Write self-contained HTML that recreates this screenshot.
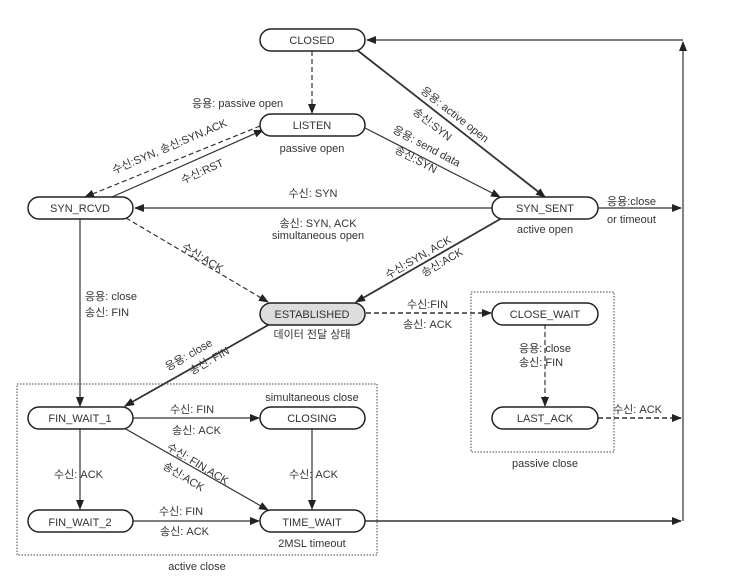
<!DOCTYPE html>
<html><head><meta charset="utf-8"><style>
html,body{margin:0;padding:0;background:#fff;}
svg text{font-family:"Liberation Sans","Noto Sans CJK KR",sans-serif;font-size:11px;fill:#333;}
</style></head><body>
<svg width="744" height="573" viewBox="0 0 744 573" xmlns="http://www.w3.org/2000/svg">
<defs>
<marker id="a" markerWidth="10" markerHeight="8" refX="9" refY="4" orient="auto" markerUnits="userSpaceOnUse">
<path d="M0,0 L10,4 L0,8 z" fill="#222"/></marker>
</defs>
<g fill="none" stroke="#444" stroke-width="1.3">
<rect x="17" y="384" width="360" height="171" stroke-dasharray="1.5,1.5" stroke-width="1"/>
<rect x="471" y="292" width="143" height="160" stroke-dasharray="1.5,1.5" stroke-width="1"/>
</g>
<g stroke="#333" stroke-width="1.2" fill="none">
<line x1="683" y1="521" x2="683" y2="42" marker-end="url(#a)"/>
<line x1="683" y1="40" x2="367" y2="40" marker-end="url(#a)"/>
<line x1="598" y1="208" x2="681" y2="208" marker-end="url(#a)"/>
<line x1="598" y1="418" x2="681" y2="418" stroke-dasharray="5,3" marker-end="url(#a)" stroke-width="1.5"/>
<line x1="365" y1="521" x2="681" y2="521" marker-end="url(#a)" stroke-width="1.5"/>
<line x1="312" y1="51" x2="312" y2="113" stroke-dasharray="5,3" marker-end="url(#a)"/>
<line x1="357" y1="50" x2="545" y2="197" stroke-width="1.8" marker-end="url(#a)"/>
<line x1="365" y1="128" x2="500" y2="197" marker-end="url(#a)"/>
<line x1="260" y1="126" x2="85" y2="197" stroke-dasharray="5,3" marker-end="url(#a)"/>
<line x1="112" y1="197" x2="263" y2="130" marker-end="url(#a)"/>
<line x1="492" y1="208" x2="135" y2="208" marker-end="url(#a)"/>
<line x1="126" y1="218" x2="268" y2="302" stroke-dasharray="5,3" marker-end="url(#a)"/>
<line x1="502" y1="218" x2="356" y2="302" stroke-width="1.8" marker-end="url(#a)"/>
<line x1="80" y1="218" x2="80" y2="406" marker-end="url(#a)"/>
<line x1="270" y1="324" x2="125" y2="406" stroke-width="1.8" marker-end="url(#a)"/>
<line x1="366" y1="313" x2="491" y2="313" stroke-dasharray="5,3" stroke-width="1.5" marker-end="url(#a)"/>
<line x1="545" y1="324" x2="545" y2="406" stroke-dasharray="5,3" marker-end="url(#a)"/>
<line x1="133" y1="418" x2="259" y2="418" marker-end="url(#a)"/>
<line x1="124" y1="428" x2="268" y2="510" marker-end="url(#a)"/>
<line x1="80" y1="428" x2="80" y2="509" marker-end="url(#a)"/>
<line x1="312" y1="428" x2="312" y2="509" marker-end="url(#a)"/>
<line x1="133" y1="521" x2="259" y2="521" marker-end="url(#a)"/>
</g>
<g stroke="#222" stroke-width="1.5" fill="#fff">
<rect x="260" y="29" width="105" height="22" rx="11"/>
<rect x="260" y="114" width="105" height="22" rx="11"/>
<rect x="28" y="197" width="105" height="22" rx="11"/>
<rect x="492" y="197" width="106" height="22" rx="11"/>
<rect x="260" y="303" width="105" height="22" rx="11" fill="#ddd"/>
<rect x="492" y="303" width="106" height="22" rx="11"/>
<rect x="492" y="407" width="106" height="22" rx="11"/>
<rect x="28" y="407" width="105" height="22" rx="11"/>
<rect x="260" y="407" width="105" height="22" rx="11"/>
<rect x="28" y="510" width="105" height="22" rx="11"/>
<rect x="260" y="510" width="105" height="22" rx="11"/>
</g>
<g text-anchor="middle">
<text x="312" y="44">CLOSED</text>
<text x="312" y="129">LISTEN</text>
<text x="80" y="212">SYN_RCVD</text>
<text x="545" y="212">SYN_SENT</text>
<text x="312" y="318">ESTABLISHED</text>
<text x="545" y="318">CLOSE_WAIT</text>
<text x="545" y="422">LAST_ACK</text>
<text x="80" y="422">FIN_WAIT_1</text>
<text x="312" y="422">CLOSING</text>
<text x="80" y="526">FIN_WAIT_2</text>
<text x="312" y="526">TIME_WAIT</text>
<text x="312" y="152">passive open</text>
<text x="313" y="197">수신: SYN</text>
<text x="318" y="227">송신: SYN, ACK</text>
<text x="318" y="239">simultaneous open</text>
<text x="545" y="233">active open</text>
<text x="312" y="338">데이터 전달 상태</text>
<text x="312" y="401">simultaneous close</text>
<text x="312" y="547">2MSL timeout</text>
<text x="197" y="570">active close</text>
<text x="545" y="467">passive close</text>
</g>
<g>
<text x="192" y="107">응용: passive open</text>
<text x="607" y="205">응용:close</text>
<text x="607" y="223">or timeout</text>
<text x="85" y="300">응용: close</text>
<text x="85" y="316">송신: FIN</text>
<text x="407" y="308">수신:FIN</text>
<text x="403" y="328">송신: ACK</text>
<text x="519" y="352">응용: close</text>
<text x="519" y="366">송신: FIN</text>
<text x="613" y="413">수신: ACK</text>
<text x="170" y="413">수신: FIN</text>
<text x="172" y="434">송신: ACK</text>
<text x="54" y="478">수신: ACK</text>
<text x="289" y="478">수신: ACK</text>
<text x="159" y="515">수신: FIN</text>
<text x="160" y="535">송신: ACK</text>
</g>
<g>
<text transform="translate(420,92) rotate(38)">응용: active open</text>
<text transform="translate(412,113) rotate(38)">송신:SYN</text>
<text transform="translate(392,132) rotate(28)">응용: send data</text>
<text transform="translate(394,152) rotate(28)">송신:SYN</text>
<text transform="translate(114,174) rotate(-23)">수신:SYN, 송신:SYN,ACK</text>
<text transform="translate(183,184) rotate(-24)">수신:RST</text>
<text transform="translate(181,249) rotate(31)">수신:ACK</text>
<text transform="translate(388,279) rotate(-30)">수신:SYN, ACK</text>
<text transform="translate(424,277) rotate(-30)">송신:ACK</text>
<text transform="translate(168,371) rotate(-30)">응용: close</text>
<text transform="translate(192,375) rotate(-30)">송신: FIN</text>
<text transform="translate(166,449) rotate(31)">수신: FIN,ACK</text>
<text transform="translate(162,468) rotate(31)">송신:ACK</text>
</g>
</svg>
</body></html>
